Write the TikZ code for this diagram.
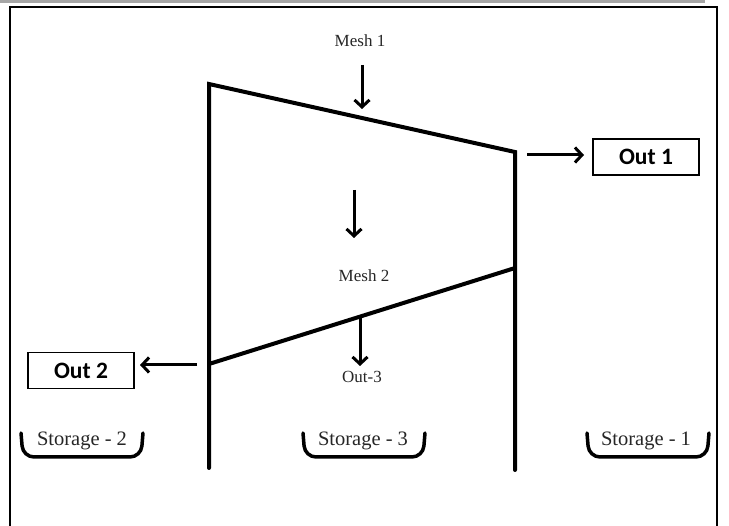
\documentclass[tikz,border=0pt]{standalone}
\usepackage{fontspec}
\setmainfont{Liberation Serif}
\newfontfamily\outfont{Carlito}
\usetikzlibrary{arrows.meta}
\begin{document}
\begin{tikzpicture}[x=1pt,y=-1pt,
  wall/.style={line width=4pt, line join=miter, line cap=round},
  flow/.style={line width=3pt, -{Straight Barb[length=7pt,width=15pt,line width=3pt]}},
  lbl/.style={font=\fontsize{17}{20}\selectfont, text=black!85, inner sep=0pt},
  slbl/.style={font=\fontsize{20.5}{23}\selectfont, text=black!85, inner sep=0pt},
  outbox/.style={draw, line width=1.6pt, minimum width=106pt, minimum height=36pt, inner sep=0pt, font=\outfont\bfseries\fontsize{23.5}{26}\selectfont},
  store/.style={line width=3.5pt, line cap=round, rounded corners=11pt}]
\useasboundingbox (0,0) rectangle (729,526);
% top grey bar and frame
\fill[gray!70] (0,0) rectangle (705,3.5);
\draw[line width=2pt] (10,526) -- (10,7) -- (717,7) -- (717,526);
% walls
\coordinate (TL) at (209,84);
\coordinate (BL) at (209,468);
\coordinate (TR) at (515,152);
\coordinate (BR) at (515,470);
\coordinate (ML) at (209,364);
\coordinate (MR) at (515,268);
\draw[wall] (BL) -- (TL) -- (TR) -- (BR);
\draw[wall] (ML) -- (MR);
% labels
\node[lbl] (m1) at (360,41) {Mesh 1};
\node[lbl] (m2) at (364,276) {Mesh 2};
\node[lbl] (o3) at (362,377) {Out-3};
% arrows in the middle
\coordinate (a1s) at (362,65);
\coordinate (a1e) at (362,109);
\draw[flow] (a1s) -- (a1e);
\coordinate (a2s) at (354,190);
\coordinate (a2e) at (354,238);
\draw[flow] (a2s) -- (a2e);
\coordinate (a3s) at (360,317);
\coordinate (a3e) at (360,366);
\draw[flow] (a3s) -- (a3e);
% outputs
\node[outbox] (out1) at (646,157) {Out 1};
\node[outbox] (out2) at (81,370.5) {Out 2};
\coordinate (o1s) at (527,155);
\coordinate (o1e) at (584,155);
\draw[flow] (o1s) -- (o1e);
\coordinate (o2s) at (197,365);
\coordinate (o2e) at (140,365);
\draw[flow] (o2s) -- (o2e);
% storages
\node[slbl] (s2) at (82,441) {Storage - 2};
\node[slbl] (s3) at (363,441) {Storage - 3};
\node[slbl] (s1) at (646,441) {Storage - 1};
\draw[store] (21,433) -- (23,457) -- (141,457) -- (143,433);
\draw[store] (303,433) -- (305,457) -- (423,457) -- (425,433);
\draw[store] (587,433) -- (589,457) -- (707,457) -- (709,433);
\end{tikzpicture}
\end{document}
